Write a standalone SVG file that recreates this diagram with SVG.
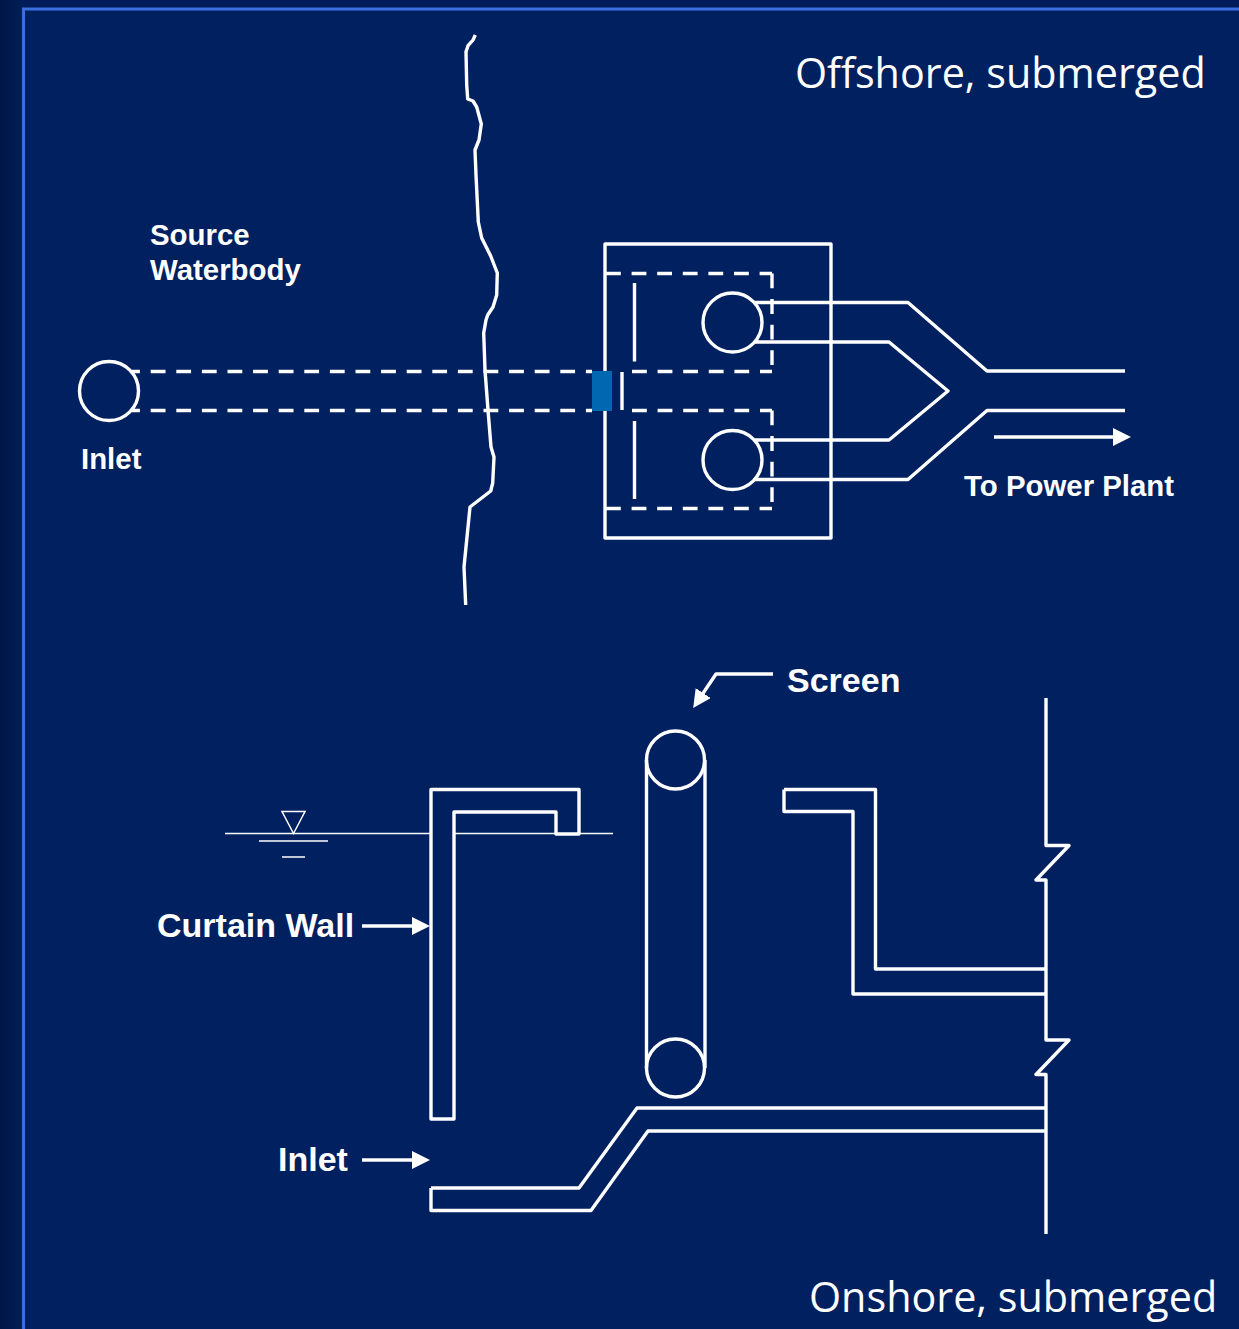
<svg xmlns="http://www.w3.org/2000/svg" width="1239" height="1329" viewBox="0 0 1239 1329">
<defs>
<linearGradient id="edge" x1="0" y1="0" x2="1" y2="0"><stop offset="0" stop-color="#001647"/><stop offset="1" stop-color="#001e5a"/></linearGradient>
<marker id="arrow" markerUnits="userSpaceOnUse" markerWidth="18" markerHeight="18" refX="12" refY="9" orient="auto"><path d="M0 0L18 9L0 18Z" fill="#fff"/></marker>
</defs>
<style>
.l{fill:none;stroke:#fff;stroke-width:3.400;stroke-linejoin:round}
.d{fill:none;stroke:#fff;stroke-width:3.400;stroke-dasharray:14.800 10.800}
.t{fill:none;stroke:#fff;stroke-width:1.500}
.lab{font-family:"Liberation Sans",Arial,sans-serif;font-weight:bold;fill:#fff}
.s{font-size:29.400px}
.b{font-size:34px}
.ttl{font-family:"Open Sans","Noto Sans",sans-serif;font-size:41.300px;fill:#fff}
</style>
<rect width="1239" height="1329" fill="#001b57"/>
<rect width="24" height="1329" fill="url(#edge)"/>
<rect x="23.500" y="9" width="1220" height="1330" fill="#002060" stroke="#3a6fe0" stroke-width="3"/>
<g id="connectors">
<path class="l" d="M475.300 35L473 40L468 45.700L466 51.700L466.700 85L467.700 99L473 101L476.700 107L481.300 124L479 140L475 150L476 175L478.300 222L481.700 238L490.700 256L497.300 273L496.700 295L493 307L487.700 315L486 320L483.700 333L485 370L488 410L491 447L494 457L492.700 483L490.700 491L470 507L464 567L465.700 605"/>
<path class="d" style="stroke-dashoffset:6.900" d="M132 371.500H592M132 410.500H592"/>
<path class="d" d="M632 371.500H772M632 410.500H772M606 273.500H772M606 508.500H772M772 273.500V366M772 410.500V503"/>
<path class="l" d="M755 302.500H908L987 371H1125"/>
<path class="l" d="M755 342H889L948 391L889 440H755"/>
<path class="l" d="M755 479.500H908L987 410.500H1125"/>
<path class="l" d="M634.500 283V361.500M634.500 421V499M622 372V410"/>
<path class="l" d="M994 437H1125" marker-end="url(#arrow)"/>
<path class="l" d="M773 674H716L696.500 703" marker-end="url(#arrow)"/>
<path class="l" d="M362 926H424" marker-end="url(#arrow)"/>
<path class="l" d="M362 1160H424" marker-end="url(#arrow)"/>
<path class="t" d="M225 833.500H431M454 833.500H556M579 833.500H613"/>
<path class="t" d="M282 811.500H305L293.500 833.500Z"/>
<path class="t" d="M259 841H328M282 857H305"/>
<path class="l" d="M646.500 760V1068M705 760V1068"/>
<path class="l" d="M431 1119V789.500H579V834H556V812H454V1119Z"/>
<path class="l" d="M784 789.500H875.500V969H1046M784 789.500V811.500H853V994H1046"/>
<path class="l" d="M1046 698V845.500H1069L1036 880H1046V1040H1069L1036 1074.500H1046V1234"/>
<path class="l" d="M431 1188H579L637 1108H1046M431 1188V1210.500H591L648 1131H1046"/>
</g>
<g id="source-label"><text class="lab s" x="150" y="245">Source</text><text class="lab s" x="150" y="280">Waterbody</text></g>
<g id="inlet-top"><circle class="l" cx="109" cy="391" r="29.500"/><text class="lab s" x="81" y="469">Inlet</text></g>
<g id="structure"><rect class="l" x="605" y="244" width="226" height="294"/><rect x="592" y="371" width="20" height="40" fill="#0067b0"/></g>
<g id="pump-top"><circle class="l" cx="732.500" cy="322.500" r="29.500"/></g>
<g id="pump-bottom"><circle class="l" cx="732.500" cy="460" r="29.500"/></g>
<g id="power-label"><text class="lab s" x="964" y="496">To Power Plant</text></g>
<g id="screen"><circle class="l" cx="675.500" cy="760" r="29"/><circle class="l" cx="675.500" cy="1068" r="29"/><text class="lab b" x="787" y="692">Screen</text></g>
<g id="curtain"><text class="lab b" x="157" y="937">Curtain Wall</text></g>
<g id="inlet-bottom"><text class="lab b" x="278" y="1171">Inlet</text></g>
<g id="titles"><text class="ttl" x="795" y="88">Offshore, submerged</text><text class="ttl" x="809" y="1312">Onshore, submerged</text></g>
</svg>
